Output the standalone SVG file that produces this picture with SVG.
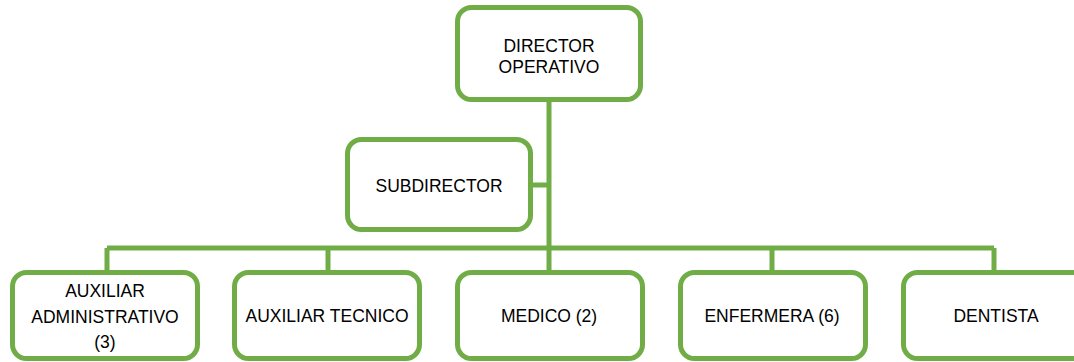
<svg xmlns="http://www.w3.org/2000/svg" width="1074" height="362" viewBox="0 0 1074 362">
<style>
.box{fill:#fff;stroke:#70AD47;stroke-width:5}
.ln{fill:none;stroke:#70AD47;stroke-width:5}
text{font-family:"Liberation Sans",Arial,sans-serif;font-size:17.5px;fill:#000;text-anchor:middle}
</style>
<rect width="1074" height="362" fill="#fff"/>
<g id="connectors">
<path class="ln" d="M549 102V248M533 185H549M107 248H994M107 248V270M328 248V270M549 248V270M772 248V270M994 248V270"/>
</g>
<g id="director">
<rect class="box" x="457.5" y="7.5" width="183" height="92" rx="14"/>
<text x="549" y="52">DIRECTOR</text>
<text x="549" y="73">OPERATIVO</text>
</g>
<g id="subdirector">
<rect class="box" x="347.5" y="139.5" width="183" height="90" rx="14"/>
<text x="439" y="192">SUBDIRECTOR</text>
</g>
<g id="aux-admin">
<rect class="box" x="12.5" y="272.5" width="185" height="86" rx="14"/>
<text x="105" y="297">AUXILIAR</text>
<text x="105" y="323">ADMINISTRATIVO</text>
<text x="105" y="348">(3)</text>
</g>
<g id="aux-tecnico">
<rect class="box" x="234.5" y="272.5" width="185" height="86" rx="14"/>
<text x="327" y="322">AUXILIAR TECNICO</text>
</g>
<g id="medico">
<rect class="box" x="457.5" y="272.5" width="185" height="86" rx="14"/>
<text x="549" y="322">MEDICO (2)</text>
</g>
<g id="enfermera">
<rect class="box" x="680.5" y="272.5" width="185" height="86" rx="14"/>
<text x="772" y="322">ENFERMERA (6)</text>
</g>
<g id="dentista">
<rect class="box" x="903.5" y="272.5" width="185" height="86" rx="14"/>
<text x="996" y="322">DENTISTA</text>
</g>
</svg>
